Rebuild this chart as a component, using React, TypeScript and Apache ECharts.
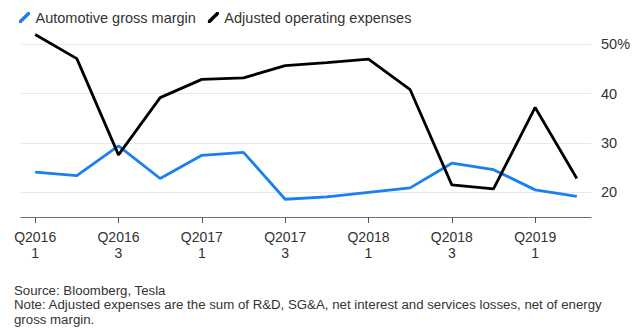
import React, { useEffect, useRef } from "react";
import * as echarts from "echarts";

const quarterLabels = [
  "Q2016\n1", "Q2016\n2", "Q2016\n3", "Q2016\n4",
  "Q2017\n1", "Q2017\n2", "Q2017\n3", "Q2017\n4",
  "Q2018\n1", "Q2018\n2", "Q2018\n3", "Q2018\n4",
  "Q2019\n1", "Q2019\n2",
];
const grossMargin = [24.1, 23.4, 29.4, 22.8, 27.5, 28.1, 18.6, 19.1, 20.0, 20.9, 25.9, 24.6, 20.5, 19.2];
const operatingExpenses = [52.0, 47.1, 27.6, 39.2, 42.9, 43.2, 45.7, 46.3, 47.0, 40.8, 21.5, 20.7, 37.2, 22.8];
const xTickIndices = [0, 2, 4, 6, 8, 10, 12];
const yTickValues = [20, 30, 40, 50];
const footnote =
  "Source: Bloomberg, Tesla\nNote: Adjusted expenses are the sum of R&D, SG&A, net interest and services losses, net of energy\ngross margin.";

const FONT = "'Liberation Sans', Arial, Helvetica, sans-serif";
const TEXT = "#333333";

export default function App() {
  const ref = useRef<HTMLDivElement>(null);
  useEffect(() => {
    if (!ref.current) return;
    const chart = echarts.init(ref.current, null, { renderer: "svg" });
    const icon = "path://M0,10 L2.2,10 L10,2.2 L10,0 L7.8,0 L0,7.8 Z";
    chart.setOption({
      animation: false,
      backgroundColor: "#ffffff",
      textStyle: { fontFamily: FONT },
      legend: {
        left: 14,
        top: 5,
        itemWidth: 12,
        itemHeight: 11,
        itemGap: 12,
        textStyle: { fontSize: 14.5, color: TEXT, fontFamily: FONT },
        data: [
          { name: "Automotive gross margin", icon },
          { name: "Adjusted operating expenses", icon },
        ],
      },
      grid: { left: 21, right: 49, top: 32, bottom: 114, containLabel: false },
      xAxis: {
        type: "value",
        min: -0.34,
        max: 13.34,
        splitLine: { show: false },
        axisLine: { show: true, lineStyle: { color: "#6e6e6e", width: 1.2 } },
        axisTick: {
          show: true,
          length: 6,
          customValues: xTickIndices,
          lineStyle: { color: "#555555", width: 1 },
        },
        axisLabel: {
          customValues: xTickIndices,
          formatter: (v: number) => quarterLabels[Math.round(v)] ?? "",
          fontSize: 14,
          lineHeight: 16,
          color: TEXT,
          margin: 12,
          fontFamily: FONT,
        },
      },
      yAxis: {
        type: "value",
        position: "right",
        min: 15,
        max: 52.5,
        axisLine: { show: false },
        axisTick: { show: false, customValues: yTickValues },
        splitLine: { show: true, lineStyle: { color: "#e8e8e8", width: 1 } },
        axisLabel: {
          customValues: yTickValues,
          formatter: (v: number) => (v === 50 ? "50%" : String(v)),
          fontSize: 14.5,
          color: TEXT,
          margin: 10,
          fontFamily: FONT,
        },
      },
      series: [
        {
          name: "Automotive gross margin",
          type: "line",
          symbol: "none",
          data: grossMargin.map((v, i) => [i, v]),
          lineStyle: { color: "#1a7ff0", width: 2.8 },
          itemStyle: { color: "#1a7ff0" },
          z: 2,
        },
        {
          name: "Adjusted operating expenses",
          type: "line",
          symbol: "none",
          data: operatingExpenses.map((v, i) => [i, v]),
          lineStyle: { color: "#000000", width: 2.8 },
          itemStyle: { color: "#000000" },
          z: 3,
        },
      ],
      graphic: [
        {
          type: "text",
          left: 14,
          top: 283,
          style: {
            text: footnote,
            fontSize: 13.25,
            lineHeight: 14.5,
            fill: TEXT,
            fontFamily: FONT,
          },
        },
      ],
    });
    return () => chart.dispose();
  }, []);
  return <div ref={ref} style={{ width: 640, height: 331, position: "fixed", left: 0, top: 0 }} />;
}
